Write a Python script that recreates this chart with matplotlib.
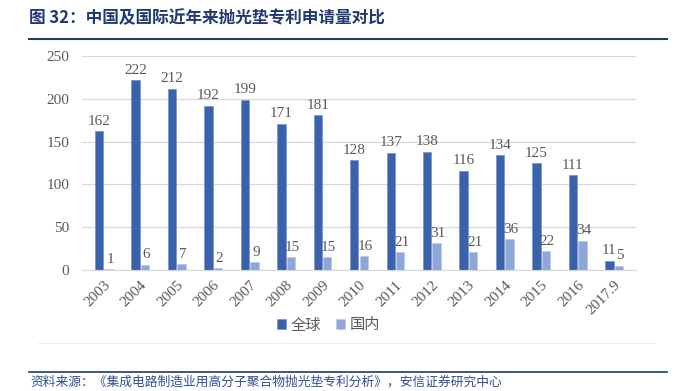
import matplotlib
matplotlib.use("Agg")
import matplotlib.pyplot as plt
import numpy as np

categories = ["2003", "2004", "2005", "2006", "2007", "2008", "2009", "2010",
              "2011", "2012", "2013", "2014", "2015", "2016", "2017.9"]
global_vals = [162, 222, 212, 192, 199, 171, 181, 128, 137, 138, 116, 134, 125, 111, 11]
domestic_vals = [1, 6, 7, 2, 9, 15, 15, 16, 21, 31, 21, 36, 22, 34, 5]
series_names = ["全球", "国内"]
title = "图 32：中国及国际近年来抛光垫专利申请量对比"
source = "资料来源：《集成电路制造业用高分子聚合物抛光垫专利分析》，安信证券研究中心"

CJK = ["Noto Sans CJK SC", "DejaVu Sans"]
SERIF = ["Liberation Serif", "Noto Sans CJK SC"]
c1 = "#3A62AA"
c2 = "#8FA6D9"
grey = "#595959"

fig = plt.figure(figsize=(6.82, 3.91), dpi=100)
ax = fig.add_axes([82/682, 1-270/391, (636-82)/682, (270-56)/391])

x = np.arange(len(categories))
w = 0.23
b1 = ax.bar(x - 0.13, global_vals, w, color=c1, edgecolor="#6F8CC8", linewidth=0.4)
b2 = ax.bar(x + 0.13, domestic_vals, w, color=c2, edgecolor="#B5C4E8", linewidth=0.4)

for xi, v in zip(x, global_vals):
    ax.text(xi - 0.13, v + 4, str(v), ha="center", va="bottom", fontsize=11,
            color=grey, family=SERIF)
for xi, v in zip(x, domestic_vals):
    ax.text(xi + 0.17, v + 4, str(v), ha="center", va="bottom", fontsize=11,
            color=grey, family=SERIF)

ax.set_ylim(0, 250)
ax.set_xlim(-0.6, len(categories) - 0.4)
ax.set_yticks(np.arange(0, 251, 50))
ax.yaxis.grid(True, color="#D9D9D9", linewidth=0.9)
ax.set_axisbelow(True)
for s in ["top", "right", "left"]:
    ax.spines[s].set_visible(False)
ax.spines["bottom"].set_color("#D9D9D9")
ax.tick_params(axis="both", length=0, colors=grey, labelsize=11)
ax.set_xticks(x)
ax.set_xticklabels(categories, rotation=45, ha="right", rotation_mode="anchor", family=SERIF)
for lab in ax.get_yticklabels():
    lab.set_family(SERIF)
ax.tick_params(axis="y", pad=9)
ax.tick_params(axis="x", pad=6)

leg = ax.legend([b1, b2], series_names, loc="center", bbox_to_anchor=(0.445, -0.257),
                ncol=2, frameon=False, prop={"family": CJK, "size": 11},
                handlelength=0.6, handleheight=0.6, handletextpad=0.3, columnspacing=1.0)
for t in leg.get_texts():
    t.set_color(grey)

fig.text(29/682, 1-18/391, title, fontsize=12, fontweight="bold", color="#1F3A6E",
         family=CJK, va="center", ha="left")
fig.add_artist(plt.Line2D([29/682, 667/682], [1-39/391, 1-39/391], color="#1F3A6E", linewidth=1.5))
fig.add_artist(plt.Line2D([38/682, 655/682], [1-343/391, 1-343/391], color="#EFEFEF", linewidth=0.8))
fig.add_artist(plt.Line2D([29/682, 667/682], [1-372/391, 1-372/391], color="#1F3A6E", linewidth=1.2))
fig.text(30/682, 1-382/391, source, fontsize=9.2, style="italic", color="#2F4F8F",
         family=CJK, va="center", ha="left")

fig.savefig("out.png", dpi=100)
